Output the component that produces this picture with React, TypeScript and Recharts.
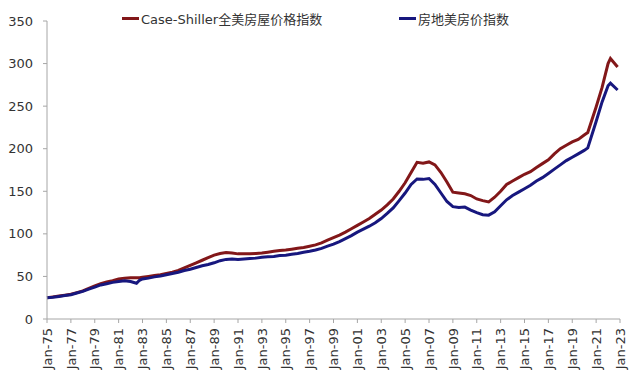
import React from 'react';
import { LineChart, Line, XAxis, YAxis } from 'recharts';

// time points (fractional years)
const times = [
    1975.0, 1975.5, 1976.0, 1976.5, 1977.0, 1977.5, 1978.0, 1978.5, 1979.0, 1979.5,
    1980.0, 1980.5, 1981.0, 1981.5, 1982.0, 1982.5, 1982.75, 1983.0, 1983.5, 1984.0,
    1984.5, 1985.0, 1985.5, 1986.0, 1986.5, 1987.0, 1987.5, 1988.0, 1988.5, 1989.0,
    1989.5, 1990.0, 1990.5, 1991.0, 1991.5, 1992.0, 1992.5, 1993.0, 1993.5, 1994.0,
    1994.5, 1995.0, 1995.5, 1996.0, 1996.5, 1997.0, 1997.5, 1998.0, 1998.5, 1999.0,
    1999.5, 2000.0, 2000.5, 2001.0, 2001.5, 2002.0, 2002.5, 2003.0, 2003.5, 2004.0,
    2004.5, 2005.0, 2005.5, 2006.0, 2006.5, 2007.0, 2007.5, 2008.0, 2008.5, 2009.0,
    2009.5, 2010.0, 2010.5, 2011.0, 2011.5, 2012.0, 2012.5, 2013.0, 2013.5, 2014.0,
    2014.5, 2015.0, 2015.5, 2016.0, 2016.5, 2017.0, 2017.5, 2018.0, 2018.5, 2019.0,
    2019.5, 2020.0, 2020.3, 2021.0, 2021.5, 2022.0, 2022.2, 2022.8,
];

const caseShiller = [
    25, 26, 27, 28, 29, 31, 33, 36, 39, 41.5,
    43.5, 45, 47, 48, 48.5, 48.5, 48.5, 49, 50, 51,
    52, 53.5, 55, 57, 60, 63, 66, 69, 72, 75,
    77, 78, 77.5, 76.5, 76.5, 76.5, 77, 77.5, 78.5, 79.5,
    80.5, 81, 82, 83, 84, 85.5, 87, 89.5, 92.5, 95.5,
    98.5, 102, 106, 110, 114, 118, 123, 128, 134, 141,
    150, 160, 172, 184, 183, 184.5, 181, 172, 161, 149,
    148, 147, 145, 141, 139, 137.5, 143, 150, 158, 162,
    166, 170, 173, 178, 182.5, 187, 194, 200, 204, 208,
    211, 216, 219, 249, 272, 300, 306, 296,
];

const freddieMac = [
    25, 25.5, 26.5, 27.5, 28.5, 30.5, 32.5, 35, 37.5, 40,
    41.5, 43, 44, 45, 44, 42, 45.5, 47, 48, 49.5,
    50.5, 52, 53.5, 55, 57, 58.5, 60.5, 62.5, 64, 66,
    68.5, 70, 70.5, 70, 70.5, 71, 71.5, 72.5, 73, 73.5,
    74.5, 75, 76, 77, 78.5, 79.5, 81, 83, 85.5, 88,
    91, 94.5, 98, 102, 105.5, 109, 113, 118, 124, 130.5,
    139, 148, 158, 164.5, 164, 165, 158, 148, 138, 132,
    131, 131.5, 128, 125, 122.5, 122, 126, 133, 140, 145,
    149, 153, 157, 162, 166, 171, 176, 181, 186, 190,
    194, 198, 201, 232, 255, 274, 277, 269,
];

const xTicks = [
    1975, 1977, 1979, 1981, 1983, 1985, 1987, 1989, 1991, 1993, 1995, 1997, 1999,
    2001, 2003, 2005, 2007, 2009, 2011, 2013, 2015, 2017, 2019, 2021, 2023,
];
const yTicks = [0, 50, 100, 150, 200, 250, 300, 350];

const seriesNames = ['Case-Shiller全美房屋价格指数', '房地美房价指数'];
const RED = '#821719';
const BLUE = '#17177E';
const FONT = '"DejaVu Sans", "Noto Sans CJK SC", sans-serif';

const data = times.map((t, i) => ({ t, cs: caseShiller[i], fm: freddieMac[i] }));

const fmtYear = (y: number) => `Jan-${String(y % 100).padStart(2, '0')}`;

function XTick(props: any) {
    const { x, y, payload } = props;
    return (
        <text
            x={x}
            y={y}
            transform={`rotate(-90 ${x} ${y})`}
            textAnchor="end"
            dy="0.36em"
            fontSize={13}
            fill="#333"
            fontFamily={FONT}
        >
            {fmtYear(payload.value)}
        </text>
    );
}

export default function App() {
    return (
        <div style={{ position: 'fixed', left: 0, top: 0, width: 640, height: 377, background: '#fff' }}>
            <LineChart width={640} height={377} data={data} margin={{ top: 21, right: 20, bottom: 8, left: 0 }}>
                <XAxis
                    dataKey="t"
                    type="number"
                    domain={[1975, 2023]}
                    ticks={xTicks}
                    interval={0}
                    height={50}
                    stroke="#a6a6a6"
                    tickSize={4}
                    tickMargin={5}
                    tick={<XTick />}
                />
                <YAxis
                    domain={[0, 350]}
                    ticks={yTicks}
                    width={47}
                    stroke="#a6a6a6"
                    tickSize={4}
                    tickMargin={10}
                    tick={{ fontSize: 13, fill: '#333', fontFamily: FONT }}
                />
                <Line dataKey="cs" stroke={RED} strokeWidth={3} dot={false} isAnimationActive={false} />
                <Line dataKey="fm" stroke={BLUE} strokeWidth={3} dot={false} isAnimationActive={false} />
            </LineChart>

            {/* legend */}
            <div style={{ position: 'absolute', left: 122, top: 9, display: 'flex', alignItems: 'center', fontFamily: FONT, fontSize: 13, color: '#333' }}>
                <span style={{ display: 'inline-block', width: 17, height: 3, background: RED, marginRight: 2 }} />
                <span>{seriesNames[0]}</span>
            </div>
            <div style={{ position: 'absolute', left: 399, top: 9, display: 'flex', alignItems: 'center', fontFamily: FONT, fontSize: 13, color: '#333' }}>
                <span style={{ display: 'inline-block', width: 17, height: 3, background: BLUE, marginRight: 2 }} />
                <span>{seriesNames[1]}</span>
            </div>
        </div>
    );
}
